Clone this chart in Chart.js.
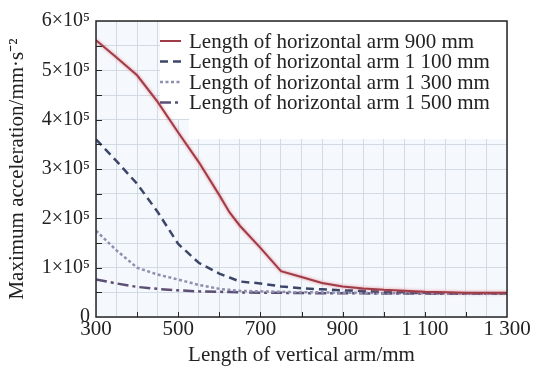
<!DOCTYPE html>
<html>
<head>
<meta charset="utf-8">
<script src="https://cdn.jsdelivr.net/npm/chart.js@4.4.1/dist/chart.umd.min.js"></script>
<style>
	html, body { margin: 0; padding: 0; background: #fff; }
	#wrap { width: 533px; height: 368px; }
</style>
</head>
<body>
<div id="wrap"><canvas id="acceleration"></canvas></div>
<script>
// vertical arm length (mm)
const verticalArm = [300, 350, 400, 450, 500, 550, 600, 625, 650, 700, 750, 800, 850, 900, 950, 1000, 1100, 1200, 1300];

// maximum acceleration (mm/s^2) for each horizontal arm length
const arm900 = [561000, 526000, 490000, 436000, 374000, 314000, 247000, 212000, 185000, 140000, 93000, 81000, 69000, 62000, 58000, 55000, 51000, 49000, 49000];
const arm1100 = [360000, 316000, 270000, 213000, 148000, 110000, 88000, 80000, 72000, 68000, 62000, 58000, 56000, 54000, 53000, 51000, 49000, 48000, 48000];
const arm1300 = [175000, 135000, 100000, 86000, 76000, 65000, 57000, 55000, 53000, 52000, 51000, 50000, 50000, 49000, 49000, 48000, 48000, 47000, 47000];
const arm1500 = [76000, 68000, 61000, 57000, 54000, 52000, 51000, 50500, 50000, 49000, 49000, 48500, 48000, 48000, 48000, 47500, 47500, 47000, 47000];

const seriesLabels = [
	"Length of horizontal arm 900 mm",
	"Length of horizontal arm 1 100 mm",
	"Length of horizontal arm 1 300 mm",
	"Length of horizontal arm 1 500 mm",
];

const FONT = "'Liberation Serif', 'Times New Roman', serif";
const TEXT = "#222";

function toPoints(values) {
	return verticalArm.map((x, i) => ({ x: x, y: values[i] }));
}

function formatArm(value) {
	const s = String(value);
	return s.length > 3 ? s.slice(0, s.length - 3) + " " + s.slice(-3) : s;
}

function formatAccel(value) {
	if (value === 0) return "0";
	return value / 100000 + "×10⁵";
}

// light plot background
const plotBackground = {
	id: "plotBackground",
	beforeDraw(chart) {
		const { ctx, chartArea: a } = chart;
		ctx.save();
		ctx.fillStyle = "#f5f8fc";
		ctx.fillRect(a.left, a.top, a.right - a.left, a.bottom - a.top);
		ctx.restore();
	},
};

// white panel behind the legend, above the grid
const legendPanel = {
	id: "legendPanel",
	beforeDatasetsDraw(chart) {
		const { ctx, chartArea: a } = chart;
		ctx.save();
		ctx.fillStyle = "#fff";
		ctx.fillRect(160, a.top + 1, a.right - 161, 97);
		ctx.fillRect(189, a.top + 1, a.right - 190, 117);
		ctx.restore();
	},
};

// soft pink halo around the 900 mm curve
const halo = {
	id: "halo",
	beforeDatasetDraw(chart, args) {
		if (args.index !== 0) return;
		const ctx = chart.ctx;
		ctx.save();
		ctx.shadowColor = "rgba(225, 120, 135, 0.9)";
		ctx.shadowBlur = 3;
	},
	afterDatasetDraw(chart, args) {
		if (args.index !== 0) return;
		chart.ctx.restore();
	},
};

// frame and inward tick marks
const frame = {
	id: "frame",
	afterDatasetsDraw(chart) {
		const { ctx, chartArea: a, scales } = chart;
		ctx.save();
		ctx.strokeStyle = "#262626";
		ctx.lineWidth = 1;
		ctx.beginPath();
		for (let v = 400; v < 1300; v += 100) {
			const px = Math.round(scales.x.getPixelForValue(v)) + 0.5;
			ctx.moveTo(px, a.bottom);
			ctx.lineTo(px, a.bottom - 5);
		}
		for (let v = 50000; v < 600000; v += 50000) {
			const py = Math.round(scales.y.getPixelForValue(v)) + 0.5;
			ctx.moveTo(a.left, py);
			ctx.lineTo(a.left + 6, py);
		}
		ctx.stroke();
		ctx.lineWidth = 1.5;
		ctx.strokeRect(a.left, a.top, a.right - a.left, a.bottom - a.top);
		ctx.restore();
	},
};

// legend rows and the rotated y title
const annotations = {
	id: "annotations",
	afterDraw(chart) {
		const ctx = chart.ctx;
		ctx.save();
		ctx.font = "21px " + FONT;
		ctx.fillStyle = TEXT;
		ctx.textBaseline = "middle";
		chart.data.datasets.forEach((ds, i) => {
			const y = 41 + i * 20.5;
			ctx.strokeStyle = ds.borderColor;
			ctx.lineWidth = ds.borderWidth;
			ctx.setLineDash(ds.borderDash || []);
			ctx.beginPath();
			ctx.moveTo(160, y);
			ctx.lineTo(181, y);
			ctx.stroke();
			ctx.fillText(ds.label, 189, y + 1);
		});
		ctx.setLineDash([]);
		ctx.font = "21px " + FONT;
		ctx.textAlign = "center";
		ctx.translate(17, 169);
		ctx.rotate(-Math.PI / 2);
		ctx.fillText("Maximum acceleration/mm·s⁻²", 0, 0);
		ctx.restore();
	},
};

new Chart(document.getElementById("acceleration"), {
	type: "line",
	data: {
		datasets: [
			{
				label: seriesLabels[0],
				data: toPoints(arm900),
				borderColor: "#a03c46",
				borderWidth: 2,
			},
			{
				label: seriesLabels[1],
				data: toPoints(arm1100),
				borderColor: "#3c4668",
				borderWidth: 2.5,
				borderDash: [8, 5],
			},
			{
				label: seriesLabels[2],
				data: toPoints(arm1300),
				borderColor: "#8e90ae",
				borderWidth: 2.5,
				borderDash: [3, 2.5],
			},
			{
				label: seriesLabels[3],
				data: toPoints(arm1500),
				borderColor: "#5c4e74",
				borderWidth: 2.5,
				borderDash: [11, 4, 3, 4],
			},
		],
	},
	options: {
		responsive: true,
		maintainAspectRatio: false,
		animation: false,
		devicePixelRatio: 1,
		layout: { padding: { top: 21, right: 26, left: 0, bottom: 0 } },
		elements: {
			point: { radius: 0 },
			line: { tension: 0, borderCapStyle: "butt" },
		},
		plugins: {
			legend: { display: false },
			tooltip: { enabled: false },
		},
		scales: {
			x: {
				type: "linear",
				min: 300,
				max: 1300,
				afterFit: (scale) => { scale.height = 51; },
				border: { display: false },
				grid: { color: "#d2dae4", lineWidth: 1, tickLength: 0 },
				ticks: {
					stepSize: 50,
					autoSkip: false,
					maxRotation: 0,
					padding: 0,
					color: TEXT,
					font: { family: FONT, size: 21 },
					callback: (v) => ((v - 300) % 200 === 0 ? formatArm(v) : ""),
				},
				title: {
					display: true,
					text: "Length of vertical arm/mm",
					color: TEXT,
					font: { family: FONT, size: 21 },
					padding: { top: 3, bottom: 0 },
				},
			},
			y: {
				min: 0,
				max: 600000,
				afterFit: (scale) => { scale.width = 96; },
				border: { display: false },
				grid: { color: "#d2dae4", lineWidth: 1, tickLength: 0 },
				ticks: {
					stepSize: 50000,
					autoSkip: false,
					padding: 6,
					color: TEXT,
					font: { family: FONT, size: 20 },
					callback: (v) => (v % 100000 === 0 ? formatAccel(v) : ""),
				},
			},
		},
	},
	plugins: [plotBackground, legendPanel, halo, frame, annotations],
});
</script>
</body>
</html>
